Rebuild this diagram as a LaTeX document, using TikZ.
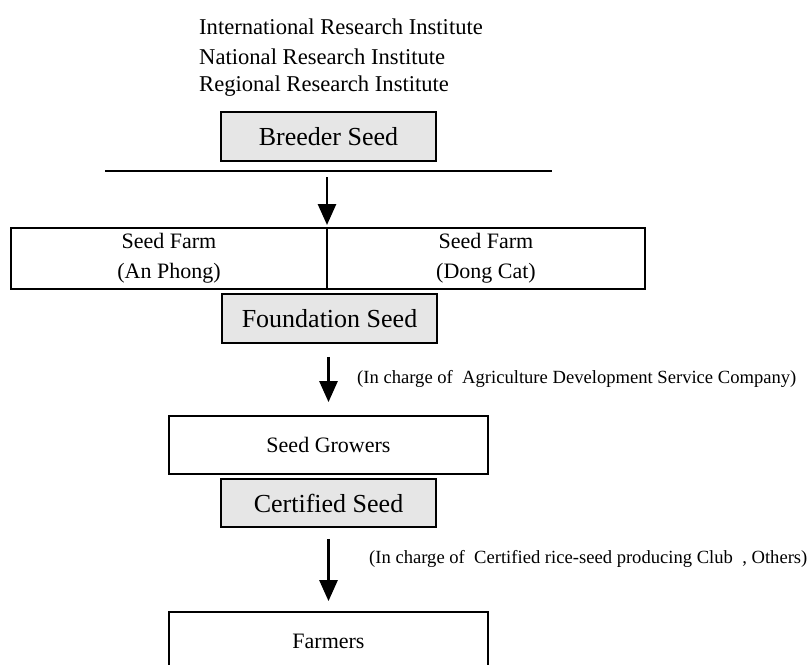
\documentclass[tikz,border=0pt]{standalone}
\usepackage{fontspec}
\setmainfont{Liberation Serif}
\usetikzlibrary{arrows.meta}
\definecolor{seedgray}{HTML}{E6E6E6}
\tikzset{
  box/.style={draw=black, line width=1.8pt, inner sep=0pt, rectangle, align=center},
  seedbox/.style={box, fill=seedgray, font=\fontsize{26}{30}\selectfont},
  plainbox/.style={box, fill=white, font=\fontsize{22}{30}\selectfont},
  toptext/.style={anchor=west, inner sep=0pt, font=\fontsize{22.6}{27}\selectfont},
  note/.style={anchor=west, inner sep=0pt, font=\fontsize{18.6}{22}\selectfont},
  flow/.style={line width=2.8pt, -{Triangle[width=18pt,length=21pt]}}
}
\begin{document}
\begin{tikzpicture}[x=1pt,y=-1pt]
\useasboundingbox (0,0) rectangle (811,664);
% top texts
\node[toptext] (t1) at (199,27) {International Research Institute};
\node[toptext] (t2) at (199,57) {National Research Institute};
\node[toptext] (t3) at (199,86) {Regional Research Institute};
% breeder
\node[seedbox, minimum width=215pt, minimum height=49pt] (breeder) at (328.5,136.5) {Breeder Seed};
\coordinate (lineL) at (105,171);
\coordinate (lineR) at (552,171);
\draw[line width=1.8pt] (lineL) -- (lineR);
\coordinate (a1s) at (327,171);
% seed farms
\node[plainbox, minimum width=316pt, minimum height=61pt] (farmL) at (169,258.5) {Seed Farm\\(An Phong)};
\node[plainbox, minimum width=318pt, minimum height=61pt] (farmR) at (486,258.5) {Seed Farm\\(Dong Cat)};
\coordinate (a1e) at (327,228);
\draw[flow, shorten <=6pt, shorten >=3pt] (a1s) -- (a1e);
% foundation
\node[seedbox, minimum width=215pt, minimum height=49pt] (foundation) at (329.5,318.5) {Foundation Seed};
% growers
\node[plainbox, minimum width=319pt, minimum height=58pt] (growers) at (328.5,445) {Seed Growers};
\draw[flow, shorten <=13pt, shorten >=13pt] (foundation.south -| growers.north) -- (growers.north);
\node[note] (n1) at (357,379) {(In charge of~ Agriculture Development Service Company)};
% certified
\node[seedbox, minimum width=215pt, minimum height=48pt] (certified) at (328.5,503) {Certified Seed};
% farmers
\node[plainbox, minimum width=319pt, minimum height=58pt] (farmers) at (328.5,641) {Farmers};
\draw[flow, shorten <=11pt, shorten >=10pt] (certified.south -| farmers.north) -- (farmers.north);
\node[note] (n2) at (369,559) {(In charge of~ Certified rice-seed producing Club~ , Others)};
\end{tikzpicture}
\end{document}
